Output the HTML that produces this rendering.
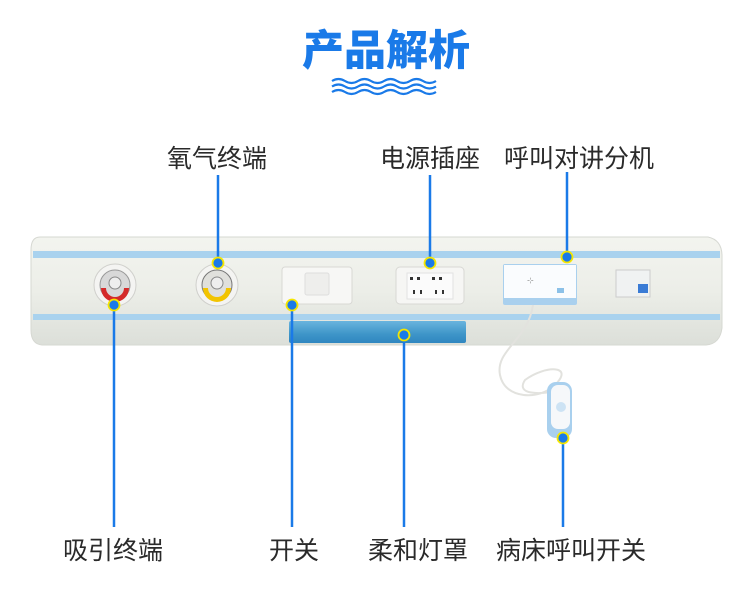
<!DOCTYPE html>
<html><head><meta charset="utf-8"><style>
html,body{margin:0;padding:0;background:#fff;}
svg{display:block}
text{font-family:"Liberation Sans","Noto Sans CJK SC",sans-serif;}
</style></head><body>
<svg width="750" height="598" viewBox="0 0 750 598" xmlns="http://www.w3.org/2000/svg">
<text x="386" y="65" text-anchor="middle" font-size="42" font-weight="bold" fill="#1a7ae8" style="font-family:'Noto Sans CJK SC',sans-serif;font-weight:900">产品解析</text>
<g fill="none" stroke="#1a7ae8" stroke-width="2.2">
<path d="M332 81 q6.5 -4 13 0 t13 0 t13 0 t13 0 t13 0 t13 0 t13 0 t13 0"/>
<path d="M332 86.5 q6.5 -4 13 0 t13 0 t13 0 t13 0 t13 0 t13 0 t13 0 t13 0"/>
<path d="M332 92 q6.5 -4 13 0 t13 0 t13 0 t13 0 t13 0 t13 0 t13 0 t13 0"/>
</g>
<defs><linearGradient id="g" x1="0" y1="0" x2="0" y2="1"><stop offset="0" stop-color="#f3f4ef"/><stop offset="0.5" stop-color="#eceee8"/><stop offset="1" stop-color="#dcdfd9"/></linearGradient>
<linearGradient id="lb" x1="0" y1="0" x2="0" y2="1"><stop offset="0" stop-color="#6ab4de"/><stop offset="0.6" stop-color="#3e95c8"/><stop offset="1" stop-color="#2f86c0"/></linearGradient></defs>
<path d="M40 237 L708 237 Q722 240 722 256 L722 328 Q720 344 706 345 L42 345 Q31 344 31 330 L31 250 Q31 237 40 237Z" fill="url(#g)" stroke="#d6d8d2"/>
<rect x="33" y="251" width="687" height="7" fill="#a9d2ee"/>
<rect x="33" y="314" width="687" height="6" fill="#a9d2ee"/>
<rect x="289" y="321" width="177" height="22" rx="2" fill="url(#lb)"/>
<circle cx="115" cy="285" r="21" fill="#f4f4f2" stroke="#d0d0cc"/>
<circle cx="115" cy="285" r="15" fill="#d8d8d8" stroke="#999"/>
<path d="M101 288 A14 14 0 0 0 129 288 L124 288 A9 9 0 0 1 106 288Z" fill="#d42a2a"/>
<circle cx="115" cy="283" r="6" fill="#eee" stroke="#888"/>
<circle cx="217" cy="285" r="21" fill="#f4f4f2" stroke="#d0d0cc"/>
<circle cx="217" cy="285" r="15" fill="#e0e0dc" stroke="#777"/>
<path d="M203 288 A14 14 0 0 0 231 288 L226 288 A9 9 0 0 1 208 288Z" fill="#f2c400"/>
<circle cx="217" cy="283" r="6" fill="#eee" stroke="#888"/>
<rect x="282" y="267" width="70" height="37" rx="3" fill="#f7f7f5" stroke="#d8d8d4"/>
<rect x="305" y="273" width="24" height="22" rx="2" fill="#eeeeec" stroke="#ddd"/>
<rect x="396" y="267" width="68" height="37" rx="4" fill="#f6f6f4" stroke="#d8d8d4"/>
<rect x="407" y="273" width="46" height="26" fill="#fbfbfb" stroke="#e2e2e2"/>
<g fill="#333"><rect x="410" y="277" width="3" height="3"/><rect x="417" y="277" width="3" height="3"/><rect x="432" y="277" width="3" height="3"/><rect x="439" y="277" width="3" height="3"/><rect x="413" y="290" width="2" height="4"/><rect x="420" y="290" width="2" height="4"/><rect x="435" y="290" width="2" height="4"/><rect x="442" y="290" width="2" height="4"/></g>
<rect x="503" y="264" width="74" height="41" rx="2" fill="#a9d0ee"/>
<rect x="504" y="265" width="72" height="33" fill="#fafcfe"/>
<rect x="557" y="288" width="7" height="5" fill="#8cc1e8"/>
<text x="527" y="283" font-size="8" fill="#999">⊹</text>
<rect x="616" y="270" width="34" height="27" fill="#f0f2f2" stroke="#ccc"/>
<rect x="638" y="284" width="10" height="9" fill="#3a7bd5"/>
<path d="M533 305 C528 340 495 350 500 375 C505 400 540 400 555 385 C575 365 545 365 525 380 C515 395 540 395 560 390" fill="none" stroke="#e2e2de" stroke-width="2"/>
<rect x="547" y="382" width="25" height="56" rx="9" fill="#a9d0ee"/>
<rect x="551" y="385" width="19" height="44" rx="7" fill="#f6f8fa"/>
<circle cx="561" cy="407" r="5" fill="#cde3f4"/>
<g stroke="#1a7ae8" stroke-width="2.5">
<line x1="218" y1="175" x2="218" y2="263"/>
<line x1="430" y1="175" x2="430" y2="263"/>
<line x1="567" y1="172" x2="567" y2="257"/>
<line x1="114" y1="305" x2="114" y2="527"/>
<line x1="292" y1="305" x2="292" y2="527"/>
<line x1="404" y1="335" x2="404" y2="527"/>
<line x1="563" y1="438" x2="563" y2="527"/>
</g>
<g fill="#1a7ae8" stroke="#f5e600" stroke-width="1.8">
<circle cx="218" cy="263" r="5.5"/><circle cx="430" cy="263" r="5.5"/><circle cx="567" cy="257" r="5.5"/>
<circle cx="114" cy="305" r="5.5"/><circle cx="292" cy="305" r="5.5"/><circle cx="404" cy="335" r="5.5"/><circle cx="563" cy="438" r="5.5"/>
</g>
<g font-size="25" fill="#2a2a2a" text-anchor="middle">
<text x="217" y="167">氧气终端</text>
<text x="430" y="167">电源插座</text>
<text x="579" y="167">呼叫对讲分机</text>
<text x="113" y="559">吸引终端</text>
<text x="294" y="559">开关</text>
<text x="418" y="559">柔和灯罩</text>
<text x="571" y="559">病床呼叫开关</text>
</g>
</svg>
</body></html>
